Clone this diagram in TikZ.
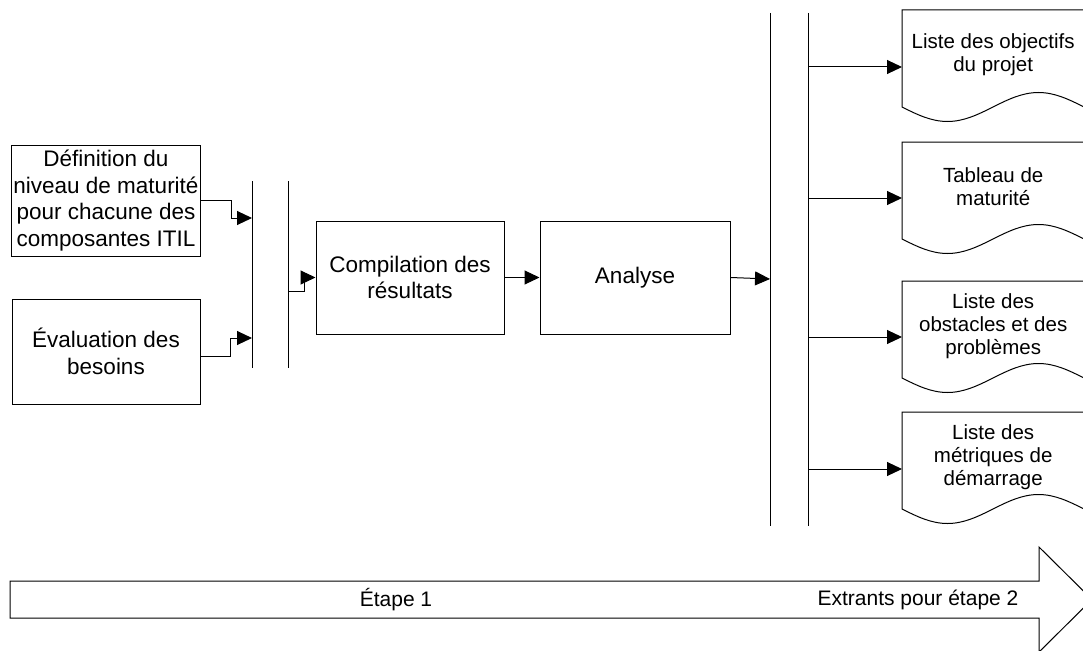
\documentclass[tikz,border=0pt]{standalone}
\usepackage{fontspec}
\setmainfont{Liberation Sans}
\usetikzlibrary{arrows.meta}

\tikzset{
	box/.style={draw, line width=1pt, minimum width=188pt, align=center, inner sep=2pt,
		font=\fontsize{22.5}{26.5}\selectfont},
	flow/.style={line width=1pt, -{Triangle[length=15pt,width=14pt]}},
	bar/.style={line width=1pt},
	doc/.style={minimum width=182pt, minimum height=89pt, anchor=north west, align=center,
		inner sep=0pt, font=\fontsize{20.5}{23}\selectfont},
	lbl/.style={font=\fontsize{21}{24}\selectfont},
}

\begin{document}
\begin{tikzpicture}[x=1pt, y=-1pt]
	\useasboundingbox (0,0) rectangle (1083,650);
	% inputs
	\node[box, minimum height=111pt] (def) at (106,200.5) {D\'efinition du\\niveau de maturit\'e\\pour chacune des\\composantes ITIL};
	\node[box, minimum height=105pt] (eval) at (106,351.5) {\'Evaluation des\\besoins};
	\node[box, minimum height=113pt] (comp) at (410,277.5) {Compilation des\\r\'esultats};
	\node[box, minimum width=190pt, minimum height=113pt] (ana) at (635,277.5) {Analyse};
	% bars
	\draw[bar] (252,181)--(252,368);
	\draw[bar] (288,181)--(288,368);
	\draw[bar] (770,13)--(770,526);
	\draw[bar] (808,13)--(808,526);
	\coordinate (in1) at (252,218);
	\coordinate (in2) at (252,338);
	\coordinate (out2) at (288,291);
	\coordinate (in3) at (770,279);
	\draw[flow] (def.east) -- ++(30,0) |- (in1);
	\draw[flow] ([yshift=-4.5pt]eval.east) -- ++(30,0) |- (in2);
	\draw[flow] (out2) -- ++(16,0) |- (comp.west);
	\draw[flow] (comp) -- (ana);
	\draw[flow] (ana.east) -- (in3);
	% outputs
	\foreach \n/\top/\y/\txt in {1/10/67/{Liste des objectifs\\du projet},
			2/142/198/{Tableau de\\maturit\'e},
			3/281/337/{Liste des\\obstacles et des\\probl\`emes},
			4/412/469/{Liste des\\m\'etriques de\\d\'emarrage}}{
		\node[doc] (d\n) at (902,\top) {\txt};
		\draw[bar] (d\n.north east) ++(0,97) -- (d\n.north east) -- (d\n.north west) -- ++(0,97)
			sin ++(45.5,14.5) cos ++(45.5,-14.5) sin ++(45.5,-14.5) cos ++(45.5,14.5);
		\coordinate (p\n) at (808,\y);
		\draw[flow] (p\n) -- (p\n -| d\n.west);
	}
	% big arrow
	\draw[bar] (10,581) -- (1039,581) -- (1039,547) -- (1092,599.5) -- (1039,652) -- (1039,618) -- (10,618) -- cycle;
	\node[lbl] (etape) at (396,599.5) {\'Etape 1};
	\node[lbl] (extr) at (918,599.5) {Extrants pour \'etape 2};
\end{tikzpicture}
\end{document}
